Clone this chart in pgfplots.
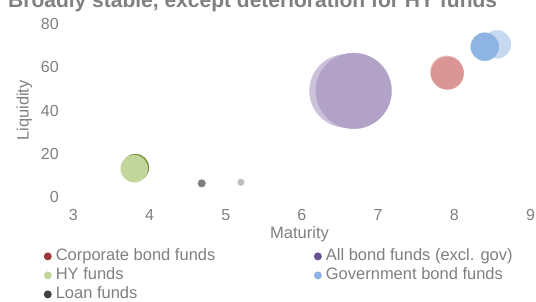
\documentclass[border=0pt]{standalone}
\usepackage{pgfplots}
\pgfplotsset{compat=1.18}
\usepackage{fontspec}
\setmainfont{Liberation Sans}
\definecolor{txt}{HTML}{808080}
\definecolor{corpOld}{HTML}{E6B9B8}
\definecolor{corpNew}{HTML}{D99694}
\definecolor{allOld}{HTML}{CCC1DA}
\definecolor{allNew}{HTML}{B3A2C7}
\definecolor{govOld}{HTML}{C6D9F1}
\definecolor{govNew}{HTML}{8EB4E3}
\definecolor{hyOld}{HTML}{77933C}
\definecolor{hyNew}{HTML}{C3D69B}
\definecolor{loanA}{HTML}{7F7F7F}
\definecolor{loanB}{HTML}{BFBFBF}
\definecolor{lgCorp}{HTML}{9B3A36}
\definecolor{lgAll}{HTML}{6A5190}
\definecolor{lgHY}{HTML}{C3D69B}
\definecolor{lgGov}{HTML}{8EB4E3}
\definecolor{lgLoan}{HTML}{404040}
\begin{document}
\begin{tikzpicture}[x=1bp,y=1bp]
\node[anchor=base west, inner sep=0, text=txt, font=\fontsize{21bp}{24bp}\selectfont\bfseries] at (8,294) {Broadly stable, except deterioration for HY funds};
\begin{axis}[
  at={(73.3bp,104.3bp)}, anchor=south west,
  scale only axis, width=457.2bp, height=172.4bp,
  xmin=3, xmax=9, ymin=0, ymax=80,
  xtick={3,4,5,6,7,8,9}, ytick={0,20,40,60,80},
  axis line style={draw=none}, major tick length=0pt,
  /pgf/number format/assume math mode=true,
  tick label style={font=\fontsize{16bp}{19bp}\selectfont, text=txt},
  xticklabel style={yshift=-9bp},
  yticklabel style={xshift=-11bp},
  xlabel={Maturity}, ylabel={Liquidity},
  label style={font=\fontsize{16.5bp}{19bp}\selectfont, text=txt},
  xlabel style={at={(axis description cs:0.4948,-0.2204)}, anchor=center},
  ylabel style={at={(axis description cs:-0.1072,0.5)}, anchor=center},
  clip=false,
  legend columns=2,
  legend cell align=left,
  legend image code/.code={\path[#1] (0bp,0bp) circle (4bp);},
  legend style={draw=none, fill=none, inner sep=0pt, at={(axis description cs:-0.0650,-0.290)}, anchor=north west,
    font=\fontsize{16.5bp}{19bp}\selectfont, text=txt,
    row sep=0bp,
    nodes={inner sep=1.5bp, text height=12bp, text depth=4bp},
    /tikz/every odd column/.append style={column sep=2.5bp},
    /tikz/every even column/.append style={column sep=97bp}},
]
% Government bond funds
\addplot[only marks, mark=*, mark size=14bp, color=govOld, forget plot] coordinates {(8.56,70.7)};
\addplot[only marks, mark=*, mark size=14bp, color=govNew, forget plot] coordinates {(8.40,69.6)};
% Corporate bond funds
\addplot[only marks, mark=*, mark size=16.3bp, color=corpOld, forget plot] coordinates {(7.90,57.8)};
\addplot[only marks, mark=*, mark size=16.2bp, color=corpNew, forget plot] coordinates {(7.91,57.3)};
% All bond funds
\addplot[only marks, mark=*, mark size=36.5bp, color=allOld, forget plot] coordinates {(6.58,49.1)};
\addplot[only marks, mark=*, mark size=37.8bp, color=allNew, forget plot] coordinates {(6.68,49.1)};
% HY funds
\addplot[only marks, mark=*, mark size=13.5bp, color=hyOld, forget plot] coordinates {(3.815,13.5)};
\addplot[only marks, mark=*, mark size=13.5bp, color=hyNew, forget plot] coordinates {(3.80,13.0)};
% Loan funds
\addplot[only marks, mark=*, mark size=3.8bp, color=loanA, forget plot] coordinates {(4.685,6.2)};
\addplot[only marks, mark=*, mark size=3.3bp, color=loanB, forget plot] coordinates {(5.20,6.7)};
% legend
\addlegendimage{fill=lgCorp, draw=none}
\addlegendentry{Corporate bond funds}
\addlegendimage{fill=lgAll, draw=none}
\addlegendentry{All bond funds (excl. gov)}
\addlegendimage{fill=lgHY, draw=none}
\addlegendentry{HY funds}
\addlegendimage{fill=lgGov, draw=none}
\addlegendentry{Government bond funds}
\addlegendimage{fill=lgLoan, draw=none}
\addlegendentry{Loan funds}
\end{axis}
\pgfresetboundingbox
\useasboundingbox (0,0) rectangle (536,301);
\end{tikzpicture}
\end{document}
